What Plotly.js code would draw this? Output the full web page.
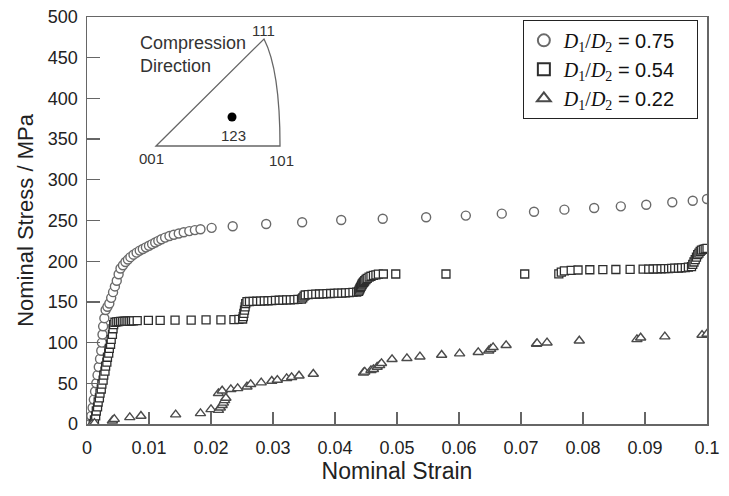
<!DOCTYPE html>
<html>
<head>
<meta charset="utf-8">
<script src="https://cdn.plot.ly/plotly-3.0.1.min.js"></script>
<style>html,body{margin:0;padding:0;background:#fff;}#chart{width:729px;height:496px;}</style>
</head>
<body>
<div id="chart"></div>
<script>
// Series D1/D2 = 0.75 (circles)
const strainA = [0.0005,0.0007,0.0009,0.0011,0.0013,0.0015,0.0017,0.0019,0.0021,0.0023,0.0024,0.0025,0.0026,0.0028,0.0030,0.0033,0.0036,0.0039,0.0042,0.0045,0.0048,0.0051,0.0054,0.0058,0.0062,0.0066,0.0070,0.0075,0.0080,0.0085,0.0090,0.0095,0.0100,0.0105,0.0110,0.0115,0.0120,0.0126,0.0133,0.0140,0.0148,0.0156,0.0165,0.0174,0.0183,0.0201,0.0235,0.0289,0.0347,0.0410,0.0477,0.0547,0.0611,0.0669,0.0721,0.0770,0.0818,0.0861,0.0902,0.0944,0.0977,0.1000];
const stressA = [0,10,20,30,40,50,60,70,80,90,100,110,120,130,140,144,148,155,162,169,176,184,191,195,199,202,205,208,210.5,213,215,217,219,221,223,225,227,229,231,232.5,234,235.5,237,238.2,239.2,241,243,245.7,247.8,250.6,252.2,254,256,258.4,260.8,263.3,265.4,267.4,269.4,272.4,274.3,276.4];

// Series D1/D2 = 0.54 (squares)
const strainB = [0.0010,0.0012,0.0014,0.0015,0.0017,0.0018,0.0020,0.0021,0.0023,0.0024,0.0026,0.0027,0.0029,0.0030,0.0032,0.0033,0.0035,0.0036,0.0038,0.0039,0.0041,0.0042,
  0.0043,0.0045,0.0048,0.0051,0.0054,0.0057,0.0060,0.0063,0.0066,0.0069,0.0072,0.0075,0.0081,0.0099,0.0118,0.0142,0.0168,0.0192,0.0216,0.0237,0.0245,0.0251,
  0.0252,0.0253,0.0254,0.0255,0.0256,0.0258,
  0.0262,0.0268,0.0274,0.0280,0.0286,0.0292,0.0298,0.0304,0.0310,0.0316,0.0322,0.0328,0.0334,0.0340,0.0346,
  0.0348,0.0350,0.0352,
  0.0357,0.0363,0.0369,0.0375,0.0381,0.0387,0.0393,0.0399,0.0405,0.0411,0.0417,0.0423,0.0429,0.0435,
  0.0438,0.0439,0.0440,0.0441,0.0442,0.0443,0.0444,0.0445,0.0446,0.0447,0.0448,0.0450,0.0452,0.0455,0.0458,0.0462,0.0466,0.0470,
  0.0478,0.0498,0.0579,0.0706,
  0.0761,0.0765,0.0770,0.0781,0.0792,0.0811,0.0832,0.0853,0.0876,0.0897,0.0906,0.0913,0.0920,0.0926,0.0932,0.0938,0.0943,0.0948,0.0954,0.0959,0.0965,0.0970,0.0975,
  0.0977,0.0979,0.0981,0.0983,0.0985,0.0987,0.0989,0.0991,0.0994,0.0997,0.1000];
const stressB = [0,5,10,16,21,27,32,38,43,49,54,60,65,71,76,82,87,93,98,104,110,117,
  122,125,125.5,125.8,126,126,126.2,126.3,126.4,126.5,126.6,126.8,127,127.2,127.3,127.5,127.6,127.8,128,128.2,128.5,129,
  132,136,140,144,148,150.3,
  150.5,150.6,150.8,151,151.2,151.4,151.6,151.8,152,152.2,152.4,152.6,152.8,153,153.5,
  155,157,158.5,
  159,159.3,159.5,159.7,159.9,160.1,160.3,160.5,160.7,160.9,161.1,161.3,161.6,162,
  163,164.5,166,167.5,169,170.5,172,173,174,175,176,177.5,179,180.5,181.5,182.5,183.3,184,
  184.3,184.3,184.3,184.3,
  184.5,186.5,188,188.8,189.2,189.5,189.7,189.8,190,190.2,190.3,190.4,190.6,190.7,190.8,191,191.2,191.4,191.6,191.8,192,192.6,193.3,
  196,199,202,205,208,210,212,213.5,214.5,215.2,215.8];

// Series D1/D2 = 0.22 (triangles)
const strainC = [0.0008,0.0012,0.0041,0.0044,0.0069,0.0087,0.0143,0.0183,0.0200,0.0212,0.0215,0.0218,0.0220,0.0222,0.0224,0.0212,0.0218,0.0232,0.0243,0.0258,0.0264,0.0281,0.0298,0.0307,0.0322,0.0330,0.0342,0.0365,0.0446,0.0448,0.0458,0.0462,0.0468,0.0472,0.0475,0.0492,0.0516,0.0537,0.0572,0.0601,0.0631,0.0648,0.0651,0.0655,0.0676,0.0725,0.0726,0.0742,0.0794,0.0887,0.0893,0.0932,0.0992,0.1000];
const stressC = [0,1,4,6,8.2,9.8,11.5,13.1,18,17,20,23,26,29,32,37.7,40.9,42.6,43.8,45.8,48.8,50.8,52.8,54,56.1,57.4,59.3,61.4,63,64,66,67.2,70,72,74.6,79.5,80.7,82.7,84.8,86.4,88.1,90,92,94.2,96.7,98.3,99.1,99.9,102.3,104,106,107.3,109.3,110.6];

const ratioLabel = '<span style="font-family:\'Liberation Serif\',serif"><i>D</i><sub>1</sub>/<i>D</i><sub>2</sub></span>';
const ratioValues = ['0.75', '0.54', '0.22'];
const seriesNames = ratioValues.map(v => ratioLabel + ' = ' + v + '&nbsp;&nbsp;&nbsp;');
const xTickVals = [0,0.01,0.02,0.03,0.04,0.05,0.06,0.07,0.08,0.09,0.1];
const xTickText = ['0','0.01','0.02','0.03','0.04','0.05','0.06','0.07','0.08','0.09','0.1'];
const yTickVals = [0,50,100,150,200,250,300,350,400,450,500];

const traces = [
  {x: strainA, y: stressA, name: seriesNames[0], type: 'scatter', mode: 'markers', legendgroup: 'a',
   marker: {symbol: 'circle', size: 9, color: '#ffffff', line: {color: '#6a6a6a', width: 1.4}}},
  {x: strainB, y: stressB, name: seriesNames[1], type: 'scatter', mode: 'markers', legendgroup: 'b',
   marker: {symbol: 'square', size: 8, color: '#ffffff', line: {color: '#2e2e2e', width: 1.3}}},
  {x: strainC, y: stressC, name: seriesNames[2], type: 'scatter', mode: 'markers', legendgroup: 'c',
   marker: {symbol: 'triangle-up', size: 9, color: '#ffffff', line: {color: '#4a4a4a', width: 1.4}}}
];

const inkText = '#333333';
const layout = {
  width: 729, height: 496,
  margin: {l: 87, r: 22, t: 17, b: 72},
  paper_bgcolor: '#ffffff', plot_bgcolor: '#ffffff',
  font: {family: 'Liberation Sans, Arial, sans-serif', color: '#222222', size: 18},
  showlegend: true,
  legend: {x: 0.703, y: 0.993, xanchor: 'left', yanchor: 'top', bgcolor: '#ffffff',
    bordercolor: '#222222', borderwidth: 1, font: {size: 20, color: '#111111'},
    traceorder: 'grouped', tracegroupgap: 0, itemwidth: 30, itemsizing: 'constant'},
  xaxis: {range: [0, 0.1], tickvals: xTickVals, ticktext: xTickText, ticks: 'inside', ticklen: 12,
    tickcolor: '#666666', tickwidth: 1.3, showline: true, linecolor: '#666666', linewidth: 1.5, mirror: true,
    showgrid: false, zeroline: false, ticklabelstandoff: 7,
    tickfont: {size: 18, color: '#222222'},
    title: {text: 'Nominal Strain', font: {size: 23, color: '#222222'}, standoff: 0}},
  yaxis: {range: [0, 500], tickvals: yTickVals, ticks: 'inside', ticklen: 13,
    tickcolor: '#666666', tickwidth: 1.3, showline: true, linecolor: '#666666', linewidth: 1.5, mirror: true,
    showgrid: false, zeroline: false, ticklabelstandoff: 4,
    tickfont: {size: 18, color: '#222222'},
    title: {text: 'Nominal Stress / MPa', font: {size: 22, color: '#222222'}, standoff: 8}},
  shapes: [
    {type: 'path', xref: 'x', yref: 'y',
     path: 'M 0.01113,341.5 L 0.02855,473 Q 0.03113,434.9 0.03113,341.5 Z',
     line: {color: '#666666', width: 1.3}, fillcolor: 'rgba(0,0,0,0)'},
    {type: 'circle', xref: 'x', yref: 'y', xsizemode: 'pixel', ysizemode: 'pixel',
     xanchor: 0.02339, yanchor: 377.1, x0: -4.5, x1: 4.5, y0: -4.5, y1: 4.5,
     fillcolor: '#000000', line: {color: '#000000', width: 0}}
  ],
  annotations: [
    {xref: 'x', yref: 'y', x: 0.00823, y: 454.5, xanchor: 'left', yanchor: 'middle', align: 'left',
     text: 'Compression<br>Direction', showarrow: false, font: {size: 18, color: inkText}},
    {xref: 'x', yref: 'y', x: 0.02844, y: 484, text: '111', showarrow: false, font: {size: 15, color: inkText}},
    {xref: 'x', yref: 'y', x: 0.0236, y: 355, text: '123', showarrow: false, font: {size: 15, color: inkText}},
    {xref: 'x', yref: 'y', x: 0.01043, y: 325.6, text: '001', showarrow: false, font: {size: 15, color: inkText}},
    {xref: 'x', yref: 'y', x: 0.0314, y: 324.3, text: '101', showarrow: false, font: {size: 15, color: inkText}}
  ]
};

Plotly.newPlot('chart', traces, layout, {staticPlot: true, displayModeBar: false});
</script>
</body>
</html>
